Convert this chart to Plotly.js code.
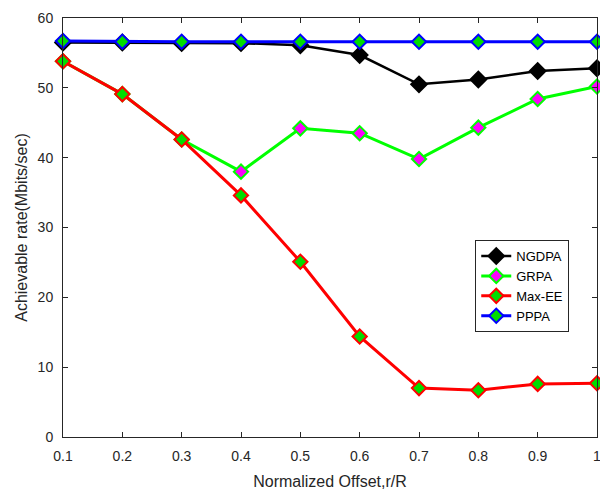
<!DOCTYPE html>
<html><head><meta charset="utf-8">
<script src="https://cdn.plot.ly/plotly-3.0.1.min.js"></script>
<style>body{margin:0;padding:0;background:#fff}#chart{width:600px;height:491px}</style>
</head><body><div id="chart"></div>
<script>
const offsets = [0.1, 0.2, 0.3, 0.4, 0.5, 0.6, 0.7, 0.8, 0.9, 1.0];
const ngdpa = [56.5, 56.5, 56.4, 56.4, 56.1, 54.7, 50.5, 51.2, 52.4, 52.8];
const grpa  = [53.8, 49.1, 42.6, 38.0, 44.2, 43.5, 39.8, 44.3, 48.4, 50.2];
const maxee = [53.8, 49.1, 42.6, 34.6, 25.1, 14.4, 7.0, 6.7, 7.6, 7.7];
const pppa  = [56.7, 56.6, 56.6, 56.6, 56.6, 56.6, 56.6, 56.6, 56.6, 56.6];
const xticks = [0.1, 0.2, 0.3, 0.4, 0.5, 0.6, 0.7, 0.8, 0.9, 1];
const xtickText = ['0.1','0.2','0.3','0.4','0.5','0.6','0.7','0.8','0.9','1'];
const yticks = [0, 10, 20, 30, 40, 50, 60];

function tr(name, y, lineColor, lw, fill, edge, size) {
  return {x: offsets, y: y, name: name, type: 'scatter', mode: 'lines+markers', cliponaxis: false,
    line: {color: lineColor, width: lw},
    marker: {symbol: 'diamond', size: size, color: fill, line: {color: edge, width: 2}}};
}
const data = [
  tr('NGDPA', ngdpa, '#000000', 2.5, '#000000', '#000000', 12),
  tr('GRPA', grpa, '#00ff00', 3, '#ff00ff', '#00ff00', 11),
  tr('Max-EE', maxee, '#ff0000', 3, '#00dd00', '#ff0000', 11),
  tr('PPPA', pppa, '#0000ff', 3, '#00dd00', '#0000ff', 11)
];
const axFont = {family: 'Liberation Sans, Arial, sans-serif', size: 14, color: '#262626'};
const layout = {
  width: 600, height: 491,
  margin: {l: 63, r: 3, t: 18, b: 54},
  paper_bgcolor: '#ffffff', plot_bgcolor: '#ffffff',
  showlegend: true,
  legend: {x: 0.772, y: 0.47, xanchor: 'left', yanchor: 'top',
    bgcolor: '#ffffff', bordercolor: '#262626', borderwidth: 1,
    font: {family: 'Liberation Sans, Arial, sans-serif', size: 13, color: '#000'},
    tracegroupgap: 0},
  xaxis: {range: [0.1, 1], tickvals: xticks, ticktext: xtickText,
    ticks: 'inside', ticklen: 5, tickcolor: '#262626', showline: true, linecolor: '#262626', linewidth: 1,
    mirror: 'ticks', showgrid: false, zeroline: false, tickfont: axFont,
    ticklabeloverflow: 'allow', ticklabelstandoff: 6,
    title: {text: 'Normalized Offset,r/R', font: {family: 'Liberation Sans, Arial, sans-serif', size: 16, color: '#262626'}, standoff: 13}},
  yaxis: {range: [0, 60], tickvals: yticks,
    ticks: 'inside', ticklen: 5, tickcolor: '#262626', showline: true, linecolor: '#262626', linewidth: 1,
    mirror: 'ticks', showgrid: false, zeroline: false, tickfont: axFont,
    ticklabelstandoff: 6,
    title: {text: 'Achievable rate(Mbits/sec)', font: {family: 'Liberation Sans, Arial, sans-serif', size: 16, color: '#262626'}, standoff: 6}}
};
Plotly.newPlot('chart', data, layout, {displayModeBar: false, staticPlot: true});
</script></body></html>
